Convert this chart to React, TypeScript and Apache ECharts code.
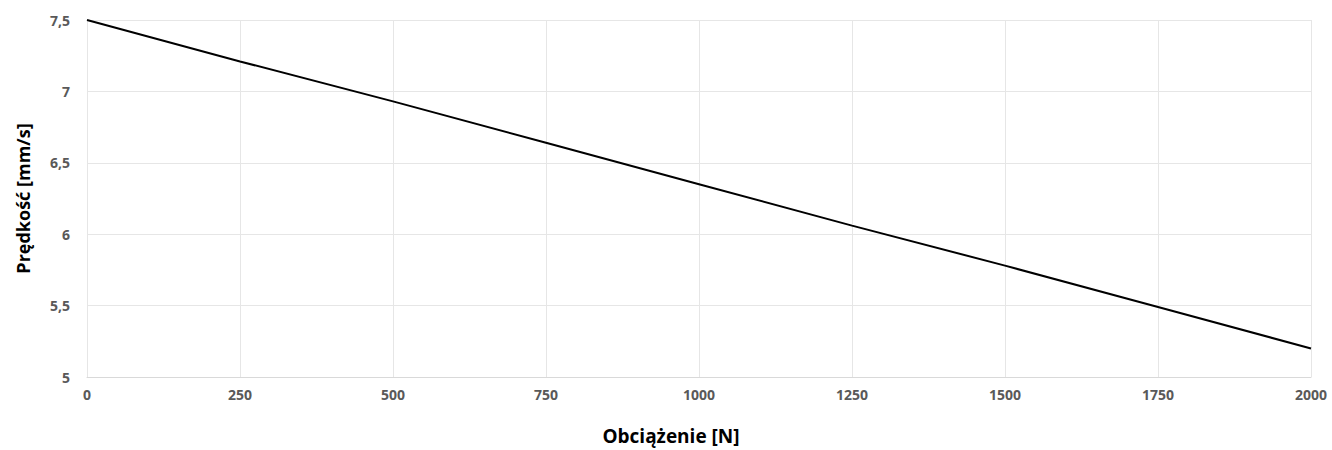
import React, { useEffect, useRef } from "react";
import * as echarts from "echarts";

const loads = [0, 250, 500, 750, 1000, 1250, 1500, 1750, 2000];
const speeds = [7.5, 7.21, 6.93, 6.64, 6.35, 6.06, 5.78, 5.49, 5.2];
const xTitle = "Obciążenie [N]";
const yTitle = "Prędkość [mm/s]";

export default function App() {
  const ref = useRef<HTMLDivElement>(null);
  useEffect(() => {
    document.body.style.margin = "0";
    const chart = echarts.init(ref.current!, null, { renderer: "svg" });
    const labelStyle = {
      color: "#595959",
      fontFamily: "Open Sans",
      fontWeight: "bold" as const,
      fontSize: 14,
    };
    const titleStyle = { color: "#000", fontFamily: "Open Sans", fontWeight: "bold" as const, fontSize: 19 };
    chart.setOption({
      animation: false,
      grid: { left: 87, right: 21, top: 20, bottom: 72 },
      xAxis: {
        type: "value",
        min: 0,
        max: 2000,
        interval: 250,
        name: xTitle,
        nameLocation: "middle",
        nameGap: 49,
        nameTextStyle: { ...titleStyle, padding: [0, 56, 0, 0] },
        axisLine: { show: true, lineStyle: { color: "#d9d9d9" } },
        axisTick: { show: false },
        axisLabel: { ...labelStyle, margin: 10, formatter: (v: number) => String(v) },
        splitLine: { show: true, lineStyle: { color: "#e6e6e6" } },
      },
      yAxis: {
        type: "value",
        min: 5,
        max: 7.5,
        interval: 0.5,
        name: yTitle,
        nameLocation: "middle",
        nameGap: 55,
        nameTextStyle: { ...titleStyle, fontSize: 18 },
        axisLine: { show: false },
        axisTick: { show: false },
        axisLabel: {
          ...labelStyle,
          margin: 17,
          formatter: (v: number) => String(v).replace(".", ","),
        },
        splitLine: { show: true, lineStyle: { color: "#e6e6e6" } },
      },
      series: [
        {
          type: "line",
          data: loads.map((x, i) => [x, speeds[i]]),
          showSymbol: false,
          lineStyle: { color: "#000", width: 2 },
        },
      ],
    });
    return () => chart.dispose();
  }, []);
  return <div ref={ref} style={{ width: 1332, height: 450 }} />;
}
